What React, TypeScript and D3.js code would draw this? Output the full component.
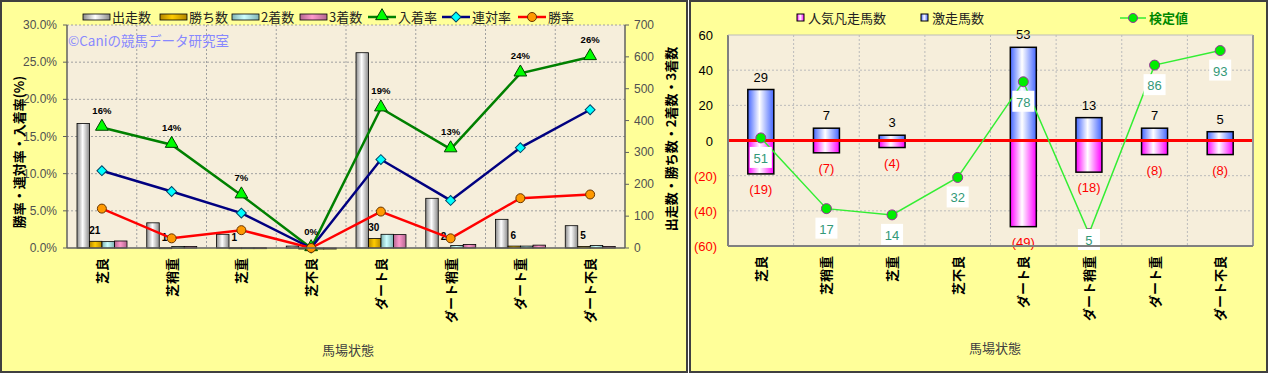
import React from 'react';
import * as d3 from 'd3';

const categories = ['芝良', '芝稍重', '芝重', '芝不良', 'ダート良', 'ダート稍重', 'ダート重', 'ダート不良'];

// left chart: counts
const starters = [391, 79, 43, 6, 613, 156, 90, 70];
const wins = [21, 1, 1, 0, 30, 2, 6, 5];
const seconds = [20, 5, 1, 0, 43, 8, 6, 8];
const thirds = [22, 5, 1, 0, 42, 11, 9, 5];

// left chart: rates (%)
const winRate = [5.3, 1.3, 2.4, 0, 4.9, 1.3, 6.7, 7.2];
const quinellaRate = [10.4, 7.6, 4.7, 0, 11.9, 6.4, 13.5, 18.6];
const placeRate = [16.2, 13.9, 7.1, 0, 18.8, 13.3, 23.5, 25.7];
const placeLabels = ['16%', '14%', '7%', '0%', '19%', '13%', '24%', '26%'];

const pctTicks = [0, 5, 10, 15, 20, 25, 30];
const countTicks = [0, 100, 200, 300, 400, 500, 600, 700];

// right chart
const hitCounts = [29, 7, 3, 0, 53, 13, 7, 5];
const flopCounts = [19, 7, 4, 0, 49, 18, 8, 8];
const testValues = [51, 17, 14, 32, 78, 5, 86, 93];
const diffTicks = [60, 40, 20, 0, -20, -40, -60];

const FONT = '"Noto Sans CJK JP", "Noto Sans", sans-serif';
const PANEL_BG = '#FFFF99';
const PLOT_BG = '#F6EEDB';

const LeftChart: React.FC = () => {
  const L = { x0: 67, x1: 625, y0: 25, y1: 248 };
  const x = d3.scaleBand<string>().domain(categories).range([L.x0, L.x1]);
  const yPct = d3.scaleLinear().domain([0, 30]).range([L.y1, L.y0]);
  const yCnt = d3.scaleLinear().domain([0, 700]).range([L.y1, L.y0]);
  const bw = 12.5;
  const cx = (c: string) => (x(c) as number) + x.bandwidth() / 2;

  const barSeries = [
    { name: '出走数', values: starters, grad: 'gWhite' },
    { name: '勝ち数', values: wins, grad: 'gGold' },
    { name: '2着数', values: seconds, grad: 'gCyan' },
    { name: '3着数', values: thirds, grad: 'gPink' },
  ];
  const lineSeries = [
    { name: '入着率', values: placeRate, stroke: '#008000', fill: '#00FF00', marker: 'tri' },
    { name: '連対率', values: quinellaRate, stroke: '#000080', fill: '#00FFFF', marker: 'dia' },
    { name: '勝率', values: winRate, stroke: '#FF0000', fill: '#FF9900', marker: 'cir' },
  ];
  const line = d3.line<number>().x((_, i) => cx(categories[i])).y(v => yPct(v));

  const marker = (kind: string, px: number, py: number, fill: string, stroke: string, key: any) => {
    if (kind === 'tri') {
      const s = d3.symbol().type(d3.symbolTriangle).size(70)();
      return <path key={key} d={s as string} transform={`translate(${px},${py - 1})`} fill={fill} stroke="#004000" strokeWidth={1} />;
    }
    if (kind === 'dia') {
      return <rect key={key} x={-3.5} y={-3.5} width={7} height={7} transform={`translate(${px},${py}) rotate(45)`} fill={fill} stroke="#004466" strokeWidth={1} />;
    }
    return <circle key={key} cx={px} cy={py} r={4.5} fill={fill} stroke="#663300" strokeWidth={1} />;
  };

  const legendBars = [
    { x: 83, grad: 'gWhite', label: '出走数' },
    { x: 160, grad: 'gGold', label: '勝ち数' },
    { x: 232, grad: 'gCyan', label: '2着数' },
    { x: 300, grad: 'gPink', label: '3着数' },
  ];
  const legendLines = [
    { x: 368, s: lineSeries[0], label: '入着率' },
    { x: 442, s: lineSeries[1], label: '連対率' },
    { x: 518, s: lineSeries[2], label: '勝率' },
  ];

  return (
    <g>
      <rect x={1} y={1} width={686} height={371} fill={PANEL_BG} stroke="#404040" strokeWidth={2} />
      <rect x={L.x0} y={L.y0} width={L.x1 - L.x0} height={L.y1 - L.y0} fill={PLOT_BG} />
      {/* grid */}
      {pctTicks.slice(1).map(t => (
        <line key={t} x1={L.x0} x2={L.x1} y1={yPct(t)} y2={yPct(t)} stroke="#A0A0A0" strokeDasharray="2,2" strokeWidth={1} />
      ))}
      {categories.slice(1).map(c => (
        <line key={c} x1={x(c)} x2={x(c)} y1={L.y0} y2={L.y1} stroke="#A0A0A0" strokeDasharray="2,2" strokeWidth={1} />
      ))}
      <text x={68} y={46} fontFamily={FONT} fontSize={13.5} fill="#8888FF">©Caniの競馬データ研究室</text>
      {/* bars */}
      {barSeries.map((s, si) =>
        s.values.map((v, i) => {
          const bx = (x(categories[i]) as number) + 10 + si * bw;
          const h = L.y1 - yCnt(v);
          return <rect key={s.name + i} x={bx} y={yCnt(v)} width={bw} height={Math.max(h, 1)} fill={`url(#${s.grad})`} stroke="#000" strokeWidth={0.8} />;
        })
      )}
      {wins.map((v, i) => (
        <text key={'wl' + i} x={(x(categories[i]) as number) + 10 + bw * 1.5 - 1} y={yCnt(v) - 7} textAnchor="middle" fontFamily="Arial, sans-serif" fontSize={10} fontWeight="bold" fill="#000">
          {v > 0 ? v : ''}
        </text>
      ))}
      {/* lines */}
      {lineSeries.map(s => (
        <path key={s.name} d={line(s.values) as string} fill="none" stroke={s.stroke} strokeWidth={2.5} />
      ))}
      {lineSeries.map(s => s.values.map((v, i) => marker(s.marker, cx(categories[i]), yPct(v), s.fill, s.stroke, s.name + 'm' + i)))}
      {placeRate.map((v, i) => (
        <text key={'pl' + i} x={cx(categories[i])} y={yPct(v) - (v === 0 ? 13 : 14)} textAnchor="middle" fontFamily="Arial, sans-serif" fontSize={9.5} fontWeight="bold" fill="#000">
          {placeLabels[i]}
        </text>
      ))}
      {/* axes */}
      <line x1={L.x0} x2={L.x0} y1={L.y0} y2={L.y1} stroke="#606060" strokeWidth={1.5} />
      <line x1={L.x1} x2={L.x1} y1={L.y0} y2={L.y1} stroke="#606060" strokeWidth={1.5} />
      <line x1={L.x0} x2={L.x1} y1={L.y1} y2={L.y1} stroke="#606060" strokeWidth={1.5} />
      {pctTicks.map(t => (
        <g key={'pt' + t}>
          <line x1={L.x0 - 4} x2={L.x0} y1={yPct(t)} y2={yPct(t)} stroke="#606060" />
          <text x={57} y={yPct(t) + 4} textAnchor="end" fontFamily="Arial, sans-serif" fontSize={12} fill="#505050">{t.toFixed(1) + '%'}</text>
        </g>
      ))}
      {countTicks.map(t => (
        <g key={'ct' + t}>
          <line x1={L.x1} x2={L.x1 + 4} y1={yCnt(t)} y2={yCnt(t)} stroke="#606060" />
          <text x={634} y={yCnt(t) + 4} textAnchor="start" fontFamily="Arial, sans-serif" fontSize={12} fill="#505050">{t}</text>
        </g>
      ))}
      {categories.map(c => (
        <text key={'cl' + c} transform={`translate(${cx(c) + 5},258) rotate(-90)`} textAnchor="end" fontFamily={FONT} fontSize={13} fontWeight="bold" fill="#000">{c}</text>
      ))}
      <text transform="translate(24,152) rotate(-90)" textAnchor="middle" fontFamily={FONT} fontSize={13} fontWeight="bold" fill="#000">勝率・連対率・入着率(%)</text>
      <text transform="translate(676,139) rotate(-90)" textAnchor="middle" fontFamily={FONT} fontSize={13} fontWeight="bold" fill="#000">出走数・勝ち数・2着数・3着数</text>
      <text x={348} y={355} textAnchor="middle" fontFamily={FONT} fontSize={13} fill="#404040">馬場状態</text>
      {/* legend */}
      {legendBars.map(l => (
        <g key={l.label}>
          <rect x={l.x} y={14} width={27} height={6} fill={`url(#${l.grad})`} stroke="#000" strokeWidth={0.8} />
          <text x={l.x + 29} y={22} fontFamily={FONT} fontSize={13} fill="#222">{l.label}</text>
        </g>
      ))}
      {legendLines.map(l => (
        <g key={l.label}>
          <line x1={l.x} x2={l.x + 28} y1={17} y2={17} stroke={l.s.stroke} strokeWidth={2.5} />
          {marker(l.s.marker, l.x + 14, 17, l.s.fill, l.s.stroke, 'lm')}
          <text x={l.x + 30} y={22} fontFamily={FONT} fontSize={13} fill="#222">{l.label}</text>
        </g>
      ))}
    </g>
  );
};

const RightChart: React.FC = () => {
  const R = { x0: 728, x1: 1253, y0: 35, y1: 246 };
  const x = d3.scaleBand<string>().domain(categories).range([R.x0, R.x1]);
  const y = d3.scaleLinear().domain([-60, 60]).range([R.y1, R.y0]);
  const yTest = d3.scaleLinear().domain([0, 100]).range([R.y1 - 2, R.y0 + 1]);
  const cx = (c: string) => (x(c) as number) + x.bandwidth() / 2;
  const bw = 26;
  const line = d3.line<number>().x((_, i) => cx(categories[i])).y(v => yTest(v));

  return (
    <g>
      <rect x={690} y={1} width={577} height={371} fill={PANEL_BG} stroke="#404040" strokeWidth={2} />
      <rect x={R.x0} y={R.y0} width={R.x1 - R.x0} height={R.y1 - R.y0} fill={PLOT_BG} />
      {diffTicks.filter(t => t !== 60 && t !== -60).map(t => (
        <line key={t} x1={R.x0} x2={R.x1} y1={y(t)} y2={y(t)} stroke="#BBBBBB" strokeDasharray="2,2" />
      ))}
      {categories.slice(1).map(c => (
        <line key={c} x1={x(c)} x2={x(c)} y1={R.y0} y2={R.y1} stroke="#BBBBBB" strokeDasharray="2,2" />
      ))}
      {/* bars */}
      {hitCounts.map((v, i) => v > 0 ? (
        <rect key={'h' + i} x={cx(categories[i]) - bw / 2} y={y(v)} width={bw} height={y(0) - y(v)} fill="url(#gBlue)" stroke="#000" strokeWidth={1.5} />
      ) : null)}
      {flopCounts.map((v, i) => v > 0 ? (
        <rect key={'f' + i} x={cx(categories[i]) - bw / 2} y={y(0)} width={bw} height={y(-v) - y(0)} fill="url(#gMagenta)" stroke="#000" strokeWidth={1.5} />
      ) : null)}
      <line x1={R.x0} x2={R.x1} y1={y(0)} y2={y(0)} stroke="#FF0000" strokeWidth={3} />
      {hitCounts.map((v, i) => v > 0 ? (
        <text key={'hl' + i} x={cx(categories[i])} y={y(v) - 8} textAnchor="middle" fontFamily="Arial, sans-serif" fontSize={13} fill="#000">{v}</text>
      ) : null)}
      {flopCounts.map((v, i) => v > 0 ? (
        <text key={'fl' + i} x={cx(categories[i])} y={y(-v) + 20} textAnchor="middle" fontFamily="Arial, sans-serif" fontSize={13} fill="#FF0000">{`(${v})`}</text>
      ) : null)}
      <path d={line(testValues) as string} fill="none" stroke="#33EE33" strokeWidth={1.5} />
      {testValues.map((v, i) => (
        <circle key={'tc' + i} cx={cx(categories[i])} cy={yTest(v)} r={5} fill="#00EE00" stroke="#993399" strokeWidth={1} />
      ))}
      {testValues.map((v, i) => {
        const ly = Math.min(yTest(v) + 20, R.y1 - 6);
        return (
          <g key={'tl' + i}>
            <rect x={cx(categories[i]) - 11} y={ly - 11} width={22} height={21} fill="#FFFFFF" />
            <text x={cx(categories[i])} y={ly + 5} textAnchor="middle" fontFamily="Arial, sans-serif" fontSize={13} fill="#339977">{v}</text>
          </g>
        );
      })}
      {/* axes */}
      <line x1={R.x0} x2={R.x0} y1={R.y0} y2={R.y1} stroke="#808080" strokeWidth={2} />
      <line x1={R.x1} x2={R.x1} y1={R.y0} y2={R.y1} stroke="#999999" strokeWidth={2} />
      <line x1={R.x0} x2={R.x1} y1={R.y1} y2={R.y1} stroke="#808080" strokeWidth={2} />
      <line x1={R.x0} x2={R.x1} y1={R.y0} y2={R.y0} stroke="#BBBBBB" strokeWidth={1} />
      {diffTicks.map(t => (
        <text key={'dt' + t} x={t < 0 ? 717 : 713} y={y(t) + 5} textAnchor="end" fontFamily="Arial, sans-serif" fontSize={13} fill={t < 0 ? '#FF0000' : '#000'}>
          {t < 0 ? `(${-t})` : t}
        </text>
      ))}
      {categories.map(c => (
        <text key={'cl' + c} transform={`translate(${cx(c) + 5},256) rotate(-90)`} textAnchor="end" fontFamily={FONT} fontSize={13} fontWeight="bold" fill="#000">{c}</text>
      ))}
      <text x={995} y={353} textAnchor="middle" fontFamily={FONT} fontSize={13} fill="#404040">馬場状態</text>
      {/* legend */}
      <rect x={797} y={14} width={7} height={7} fill="url(#gMagenta)" stroke="#000" strokeWidth={1} />
      <text x={808} y={23} fontFamily={FONT} fontSize={13} fill="#222">人気凡走馬数</text>
      <rect x={921} y={14} width={7} height={7} fill="url(#gBlue)" stroke="#000" strokeWidth={1} />
      <text x={932} y={23} fontFamily={FONT} fontSize={13} fill="#222">激走馬数</text>
      <line x1={1120} x2={1146} y1={18} y2={18} stroke="#33EE33" strokeWidth={1.5} />
      <circle cx={1133} cy={18} r={4.5} fill="#00EE00" stroke="#993399" />
      <text x={1149} y={23} fontFamily={FONT} fontSize={13} fontWeight="bold" fill="#008800">検定値</text>
    </g>
  );
};

const Grad: React.FC<{ id: string; edge: string; mid: string }> = ({ id, edge, mid }) => (
  <linearGradient id={id} x1="0" x2="1" y1="0" y2="0">
    <stop offset="0%" stopColor={edge} />
    <stop offset="45%" stopColor={mid} />
    <stop offset="100%" stopColor={edge} />
  </linearGradient>
);

export default function App() {
  return (
    <svg width={1270} height={374} style={{ position: 'absolute', left: 0, top: 0 }}>
      <defs>
        <Grad id="gWhite" edge="#8A8A8A" mid="#FFFFFF" />
        <Grad id="gGold" edge="#B38600" mid="#FFCC00" />
        <Grad id="gCyan" edge="#7FB3B3" mid="#CCFFFF" />
        <Grad id="gPink" edge="#B36690" mid="#FF99CC" />
        <Grad id="gBlue" edge="#4466FF" mid="#FFFFFF" />
        <Grad id="gMagenta" edge="#FF00FF" mid="#FFFFFF" />
      </defs>
      <LeftChart />
      <RightChart />
    </svg>
  );
}
